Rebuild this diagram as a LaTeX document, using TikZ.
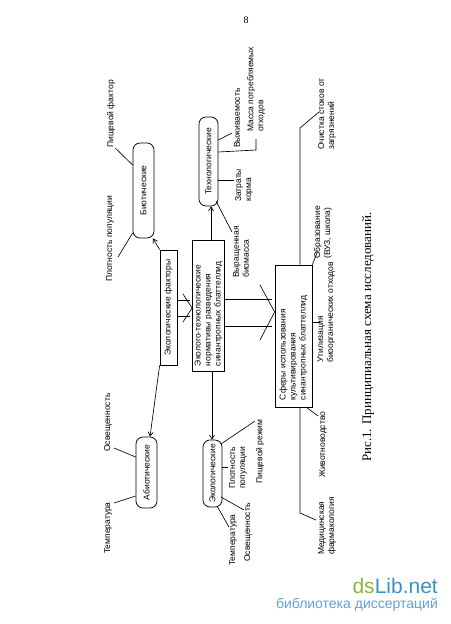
\documentclass[tikz,border=0pt]{standalone}
\usepackage{fontspec}
\setmainfont{Liberation Sans}
\newfontfamily\seriffont{Liberation Serif}
\usetikzlibrary{arrows.meta,calc}
\definecolor{dsgreen}{HTML}{8DB53C}
\definecolor{dsblue}{HTML}{3B8FCC}
\definecolor{dslight}{HTML}{5FA3D8}
\begin{document}
\begin{tikzpicture}[x=1pt,y=-1pt,
  every node/.style={font=\fontsize{8.5}{10}\selectfont},
  rbox/.style={draw,line width=0.75pt,rounded corners=7pt,rotate=90,inner sep=0pt},
  sbox/.style={draw,line width=0.75pt,rotate=90,inner sep=0pt},
  lbl/.style={rotate=90,inner sep=0pt,align=left,anchor=west},
  conn/.style={line width=0.65pt},
  arr/.style={line width=0.65pt,-{Straight Barb[length=4pt,width=5pt]}}]
\useasboundingbox[fill=white] (0,0) rectangle (450,624);

% page number
\node[font=\seriffont\fontsize{10}{12}\selectfont] (pnum) at (246,20) {8};

% boxes
\node[rbox,minimum width=95pt,minimum height=21pt] (bio) at (143.5,190.5) {Биотические};
\node[rbox,minimum width=89pt,minimum height=19pt] (tech) at (208.5,161.5) {Технологические};
\node[sbox,minimum width=115pt,minimum height=17pt] (ecf) at (168.5,307.5) {Экологические факторы};
\node[sbox,minimum height=32pt,text width=121pt,inner xsep=5pt,align=left] (ecotech) at (208.5,305.5) {Эколого-технологические\\нормативы разведения\\синантропных блаттеллид};
\node[sbox,minimum height=37pt,text width=128pt,inner xsep=7pt,align=left] (sph) at (293.5,336) {Сферы использования\\культивирования\\синантропных блаттеллид};
\node[rbox,minimum width=71pt,minimum height=21pt] (abio) at (146.5,472.5) {Абиотические};
\node[rbox,minimum width=67pt,minimum height=19pt] (eco) at (212.5,473.5) {Экологические};

% labels
\node[lbl] (lpf) at (111,148) {Пищевой фактор};
\node[lbl] (lpp1) at (110,282) {Плотность популяции};
\node[lbl] (lsurv) at (237,148) {Выживаемость};
\node[lbl] (lmass) at (256,132) {Масса потребляемых\\отходов};
\node[lbl] (lfeed) at (244,202) {Затраты\\корма};
\node[lbl] (lbiom) at (241,278) {Выращенная\\биомасса};
\node[lbl] (ledu) at (323,259) {Образование\\(ВУЗ, школа)};
\node[lbl] (lclean) at (327,150) {Очистка стоков от\\загрязнений};
\node[lbl] (lutil) at (326,363) {Утилизация\\биоорганических отходов};
\node[lbl] (lanim) at (323,478) {Животноводство};
\node[lbl] (lmed) at (327,555) {Медицинская\\фармакология};
\node[lbl] (lpp2) at (238,489) {Плотность\\популяции};
\node[lbl] (lpr) at (260,484) {Пищевой режим};
\node[lbl] (los2) at (248,562) {Освещенность};
\node[lbl] (lt2) at (233,566) {Температура};
\node[lbl] (los1) at (108,452) {Освещенность};
\node[lbl] (lt1) at (108,554) {Температура};

% caption
\node[rotate=90,font=\seriffont\fontsize{13}{15}\selectfont] (cap) at (368,337) {Рис.1. Принципиальная схема исследований.};

% watermark
\node[anchor=south east,inner sep=0pt,font=\fontsize{21}{24}\selectfont] (wm1) at (438,594) {\textcolor{dsgreen}{ds}\textcolor{dsblue}{Lib.net}};
\node[anchor=north east,inner sep=0pt,font=\fontsize{14}{16}\selectfont,text=dslight] (wm2) at (438,598) {библиотека диссертаций};

% connectors: biotic
\draw[conn] (lpf.south west) -- (bio.north |- 0,165);
\draw[conn] (118,257) -- (bio.north |- 0,233);
\draw[arr] (ecf.north east) -- (bio.west -| 153,0);

% technological
\draw[conn] (tech.south |- 0,140) -- (232,133);
\draw[conn] (tech.south |- 0,152) -- (256,150) -- (256,139);
\draw[conn] (tech.south |- 0,180) -- (234,180);
\draw[conn] (216,201) -- (232,232);
\draw[arr] (ecotech.east -| 211,0) -- (tech.west -| 211,0);

% ecological factors -> ecotech (double arrow)
\draw[conn] (ecf.south |- 0,300) -- (190,300);
\draw[conn] (ecf.south |- 0,316) -- (190,316);
\draw[conn] (183,294) -- (ecotech.north |- 0,308) -- (183,322);

% ecotech -> spheres (big arrow)
\draw[conn] (ecotech.south |- 0,299) -- (272,299);
\draw[conn] (ecotech.south |- 0,326) -- (272,326);
\draw[conn] (260,285) -- (sph.north |- 0,312) -- (260,340);

% ecf -> abiotic, ecotech -> ecological
\draw[arr] (ecf.north west) -- (abio.east -| 150,0);
\draw[arr] (ecotech.west -| 212,0) -- (eco.east -| 212,0);

% abiotic labels
\draw[conn] (114,448) -- (abio.north |- 0,457);
\draw[conn] (114,503) -- (abio.north |- 0,496);

% ecological labels
\draw[conn] (eco.south |- 0,467) -- (228,467);
\draw[conn] (221,444) -- (255,421);
\draw[conn] (221,497) -- (244,510);
\draw[conn] (217,506) -- (229,527);

% spheres labels
\draw[conn] (sph.south east) -- (317,253);
\draw[conn] (sph.east -| 300,0) -- (300,128) -- (319,112);
\draw[conn] (sph.south |- 0,322) -- (320,322);
\draw[conn] (306,407) -- (318,416);
\draw[conn] (sph.west -| 300,0) -- (300,513) -- (316,520);
\end{tikzpicture}
\end{document}
